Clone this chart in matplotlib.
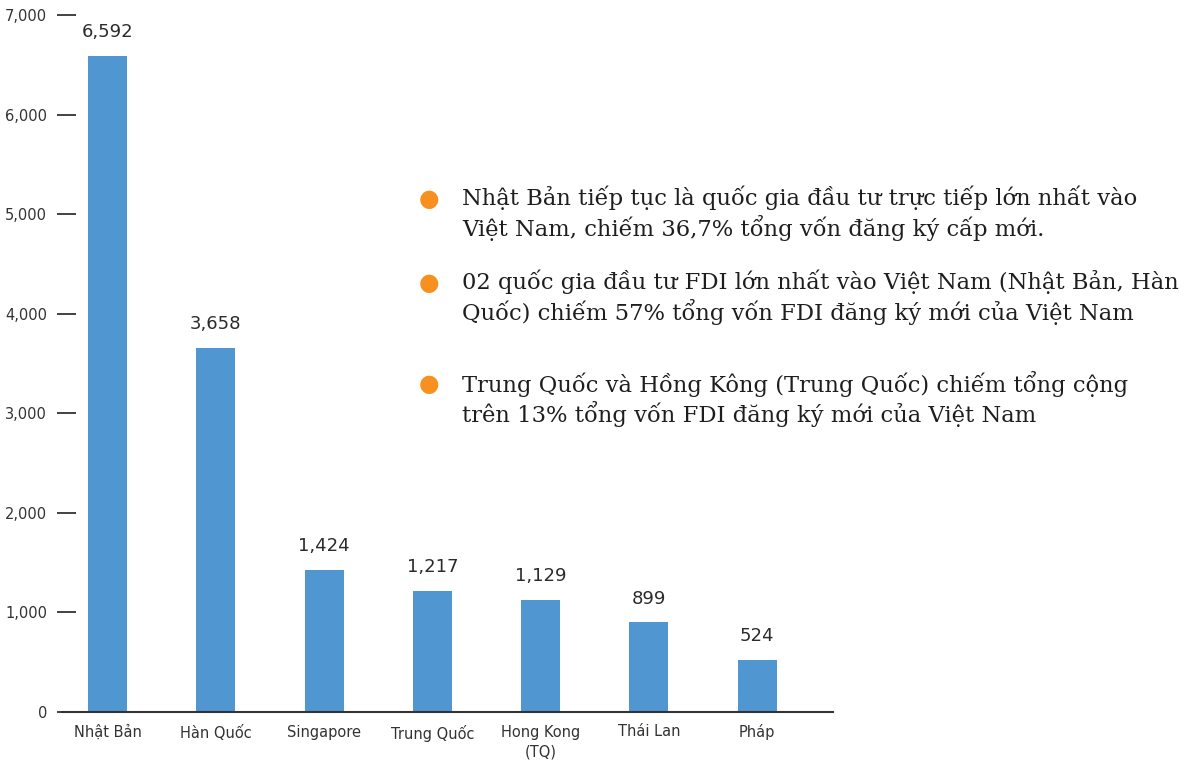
import matplotlib.pyplot as plt
from matplotlib.ticker import FuncFormatter

countries = ["Nhật Bản", "Hàn Quốc", "Singapore", "Trung Quốc", "Hong Kong\n(TQ)", "Thái Lan", "Pháp"]
values = [6592, 3658, 1424, 1217, 1129, 899, 524]
yticks = [0, 1000, 2000, 3000, 4000, 5000, 6000, 7000]
notes = [
    "Nhật Bản tiếp tục là quốc gia đầu tư trực tiếp lớn nhất vào\nViệt Nam, chiếm 36,7% tổng vốn đăng ký cấp mới.",
    "02 quốc gia đầu tư FDI lớn nhất vào Việt Nam (Nhật Bản, Hàn\nQuốc) chiếm 57% tổng vốn FDI đăng ký mới của Việt Nam",
    "Trung Quốc và Hồng Kông (Trung Quốc) chiếm tổng cộng\ntrên 13% tổng vốn FDI đăng ký mới của Việt Nam",
]

W, H = 1192, 762
fig = plt.figure(figsize=(W / 100, H / 100), dpi=100)
ax = fig.add_axes([57 / W, 50 / H, (833 - 57) / W, 697 / H])

x = range(len(countries))
ax.bar(x, values, width=0.36, color="#5097d2", zorder=2)
for i, v in enumerate(values):
    ax.text(i, v + 150, f"{v:,}", ha="center", va="bottom", fontsize=13, color="#2b2b2b")

ax.set_xlim(-0.466, 6.70)
ax.set_ylim(0, 7000)
ax.set_yticks(yticks)
ax.yaxis.set_major_formatter(FuncFormatter(lambda v, p: f"{int(v):,}"))
ax.set_xticks(list(x))
ax.set_xticklabels(countries, fontsize=10.5, color="#333333", linespacing=1.4)
ax.tick_params(axis="x", length=0, pad=9)
ax.tick_params(axis="y", direction="in", length=14, width=1.2, color="#222222",
               labelsize=10.5, labelcolor="#333333", pad=7)
for s in ["left", "right", "top"]:
    ax.spines[s].set_visible(False)
ax.spines["bottom"].set_color("#333333")
ax.spines["bottom"].set_linewidth(1.5)
ax.spines["bottom"].set_bounds(-0.42, 6.70)

# bullet notes on the right
tops = [200, 284, 385]
for t, note in zip(tops, notes):
    fig.text(429 / W, 1 - (t - 1) / H, "\u25cf", color="#f7901e", fontsize=17,
             ha="center", va="center")
    fig.text(462 / W, 1 - (t - 14) / H, note, fontsize=16.3, family="DejaVu Serif",
             color="#1e1e1e", va="top", ha="left", linespacing=1.2)

fig.savefig("out.png", dpi=100)
